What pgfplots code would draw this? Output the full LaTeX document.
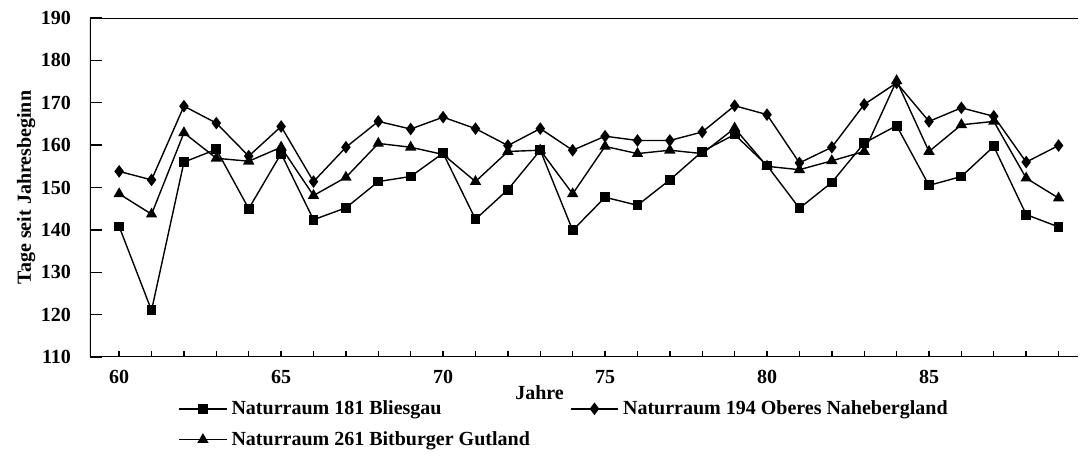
\documentclass[border=0pt]{standalone}
\usepackage{fontspec}
\setmainfont{Liberation Serif}
\usepackage{pgfplots}
\pgfplotsset{compat=1.18}
\begin{document}
\begin{tikzpicture}
\useasboundingbox (-45pt,-56.5pt) rectangle (495.5pt,178.5pt);
\begin{axis}[
  scale only axis, width=494pt, height=169.5pt,
  xmin=59.1, xmax=89.6, ymin=110, ymax=190,
  axis line style={draw=none},
  xtick={59,...,89}, xticklabels={},
  extra x ticks={60,65,...,85},
  extra x tick style={tick style={draw=none}, xticklabels={60,65,70,75,80,85}},
  ytick=\empty,
  extra y ticks={110,120,...,190},
  extra y tick style={major tick length=6pt, tick align=inside, ytick pos=left},
  xtick pos=bottom, ytick pos=left,
  tick align=inside,
  major tick length=3pt,
  tick style={line width=0.7pt, black},
  /pgf/number format/assume math mode=true,
  tick label style={font=\bfseries\fontsize{10}{12}\selectfont},
  yticklabel style={xshift=-6pt},
  xticklabel style={yshift=-3pt},
  label style={font=\bfseries\fontsize{10}{12}\selectfont},
  xlabel={Jahre}, xlabel style={at={(axis description cs:0.455,-0.106)}, anchor=center},
  ylabel={Tage seit Jahresbeginn}, ylabel style={yshift=-4pt},
  legend columns=2,
  legend cell align=left,
  legend style={at={(0.089,-0.115)}, anchor=north west, draw=none, fill=none,
    inner sep=0pt, font=\bfseries\fontsize{10}{12}\selectfont, row sep=3pt,
    /tikz/every even column/.append style={column sep=18pt}},
  legend image code/.code={\draw[mark repeat=2,mark phase=2] plot coordinates {(0cm,0cm)(0.42cm,0cm)(0.84cm,0cm)};},
  every axis plot/.append style={black, line width=0.7pt},
]
\draw[line width=1pt] (rel axis cs:0,0) -- (rel axis cs:0,1) -- (rel axis cs:1,1);
\draw[line width=1pt] (rel axis cs:0,0) -- (rel axis cs:1,0);
\addplot[mark=square*, mark size=2.1pt] coordinates {
(60,140.8)(61,121)(62,156)(63,159)(64,145)(65,158)(66,142.4)(67,145.2)(68,151.4)(69,152.6)
(70,158.1)(71,142.5)(72,149.5)(73,158.8)(74,139.9)(75,147.7)(76,145.8)(77,151.8)(78,158.5)(79,162.5)
(80,155.2)(81,145.1)(82,151.2)(83,160.5)(84,164.6)(85,150.5)(86,152.6)(87,159.7)(88,143.6)(89,140.7)};
\addlegendentry{Naturraum 181 Bliesgau}
\addplot[mark=diamond*, mark size=2.6pt] coordinates {
(60,153.8)(61,151.8)(62,169.2)(63,165.2)(64,157.4)(65,164.4)(66,151.4)(67,159.5)(68,165.6)(69,163.8)
(70,166.6)(71,163.9)(72,159.9)(73,163.9)(74,158.8)(75,162.1)(76,161.1)(77,161.1)(78,163.1)(79,169.3)
(80,167.2)(81,155.8)(82,159.5)(83,169.6)(84,174.7)(85,165.6)(86,168.8)(87,166.8)(88,156)(89,159.9)};
\addlegendentry{Naturraum 194 Oberes Nahebergland}
\addplot[mark=triangle*, mark size=2.6pt] coordinates {
(60,148.5)(61,143.7)(62,162.9)(63,156.9)(64,156.2)(65,159.5)(66,148.1)(67,152.4)(68,160.4)(69,159.5)
(70,157.8)(71,151.4)(72,158.5)(73,158.8)(74,148.5)(75,159.7)(76,158)(77,158.8)(78,158)(79,164)
(80,155)(81,154.2)(82,156.3)(83,158.5)(84,175.2)(85,158.5)(86,164.8)(87,165.6)(88,152.2)(89,147.5)};
\addlegendentry{Naturraum 261 Bitburger Gutland}
\end{axis}
\end{tikzpicture}
\end{document}
